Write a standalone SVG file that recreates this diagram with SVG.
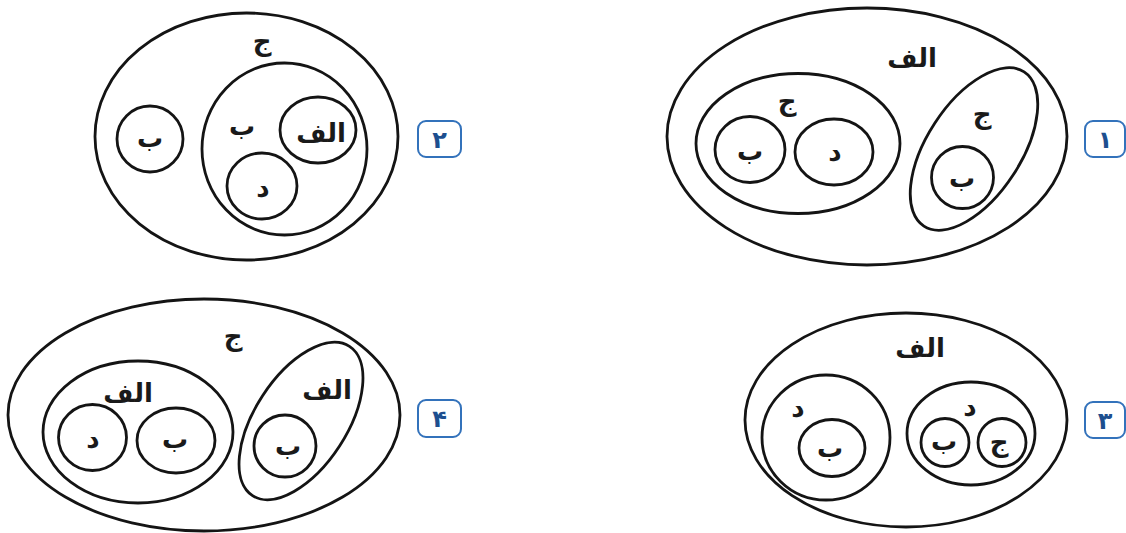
<svg xmlns="http://www.w3.org/2000/svg" width="1126" height="533" viewBox="0 0 1126 533">
<style>
.s{fill:none;stroke:#141414;stroke-width:2.8}
.t{font-family:"DejaVu Sans",sans-serif;font-size:26px;font-weight:bold;fill:#1a1a1a;text-anchor:middle}
.b{fill:#fff;stroke:#3372bb;stroke-width:2}
.n{font-family:"DejaVu Sans",sans-serif;font-size:24px;font-weight:bold;fill:#1d4f8f;text-anchor:middle}
</style>
<rect width="1126" height="533" fill="#fff"/>
<g id="d1">
<ellipse class="s" cx="867" cy="136.5" rx="200" ry="128.5"/>
<text class="t" x="912" y="67">الف</text>
<ellipse class="s" cx="798" cy="143.5" rx="102" ry="70"/>
<text class="t" x="787" y="110">ج</text>
<ellipse class="s" cx="750" cy="149.5" rx="35" ry="33"/>
<text class="t" x="750" y="160">ب</text>
<ellipse class="s" cx="834" cy="152" rx="39" ry="33"/>
<text class="t" x="835" y="161">د</text>
<ellipse class="s" cx="0" cy="0" rx="47" ry="92" transform="translate(974 149) rotate(33)"/>
<text class="t" x="982" y="123">ج</text>
<ellipse class="s" cx="962.5" cy="177.5" rx="31" ry="31"/>
<text class="t" x="962" y="187">ب</text>
</g>
<g id="l1"><rect class="b" x="1085" y="121" width="40" height="36" rx="8"/><text class="n" x="1105" y="148">۱</text></g>
<g id="d2">
<ellipse class="s" cx="246.5" cy="136.5" rx="151.5" ry="123.5"/>
<text class="t" x="262" y="50">ج</text>
<ellipse class="s" cx="150" cy="139" rx="33" ry="33"/>
<text class="t" x="150" y="147">ب</text>
<ellipse class="s" cx="284.5" cy="149" rx="82.5" ry="86"/>
<text class="t" x="242" y="135">ب</text>
<ellipse class="s" cx="318" cy="130" rx="38" ry="33"/>
<text class="t" x="321" y="142">الف</text>
<ellipse class="s" cx="262" cy="186" rx="35" ry="33"/>
<text class="t" x="263" y="197">د</text>
</g>
<g id="l2"><rect class="b" x="418" y="121" width="43" height="36" rx="8"/><text class="n" x="439.5" y="148">۲</text></g>
<g id="d3">
<ellipse class="s" cx="906" cy="420" rx="161" ry="107"/>
<text class="t" x="920" y="357">الف</text>
<ellipse class="s" cx="826" cy="437.5" rx="64" ry="62.5"/>
<text class="t" x="798" y="417">د</text>
<ellipse class="s" cx="832" cy="448" rx="33" ry="28.5"/>
<text class="t" x="830" y="457">ب</text>
<ellipse class="s" cx="971" cy="433.5" rx="64" ry="51.5"/>
<text class="t" x="970" y="416">د</text>
<circle class="s" cx="945" cy="442.5" r="24"/>
<text class="t" x="944" y="450">ب</text>
<circle class="s" cx="1002" cy="442.5" r="24"/>
<text class="t" x="999" y="451">ج</text>
</g>
<g id="l3"><rect class="b" x="1085" y="402" width="40" height="36" rx="8"/><text class="n" x="1105" y="429">۳</text></g>
<g id="d4">
<ellipse class="s" cx="204" cy="415" rx="196" ry="116"/>
<text class="t" x="233" y="345">ج</text>
<ellipse class="s" cx="138" cy="432" rx="95" ry="71"/>
<text class="t" x="128" y="402">الف</text>
<ellipse class="s" cx="92.5" cy="437.5" rx="34" ry="33"/>
<text class="t" x="93" y="448">د</text>
<ellipse class="s" cx="176" cy="440.5" rx="39" ry="32.5"/>
<text class="t" x="175" y="448">ب</text>
<ellipse class="s" cx="0" cy="0" rx="46" ry="89" transform="translate(301 421) rotate(33)"/>
<text class="t" x="327" y="399">الف</text>
<circle class="s" cx="285" cy="446" r="31"/>
<text class="t" x="288" y="455">ب</text>
</g>
<g id="l4"><rect class="b" x="418" y="400" width="43" height="37" rx="8"/><text class="n" x="439.5" y="427">۴</text></g>
<g id="connectors"/>
</svg>
